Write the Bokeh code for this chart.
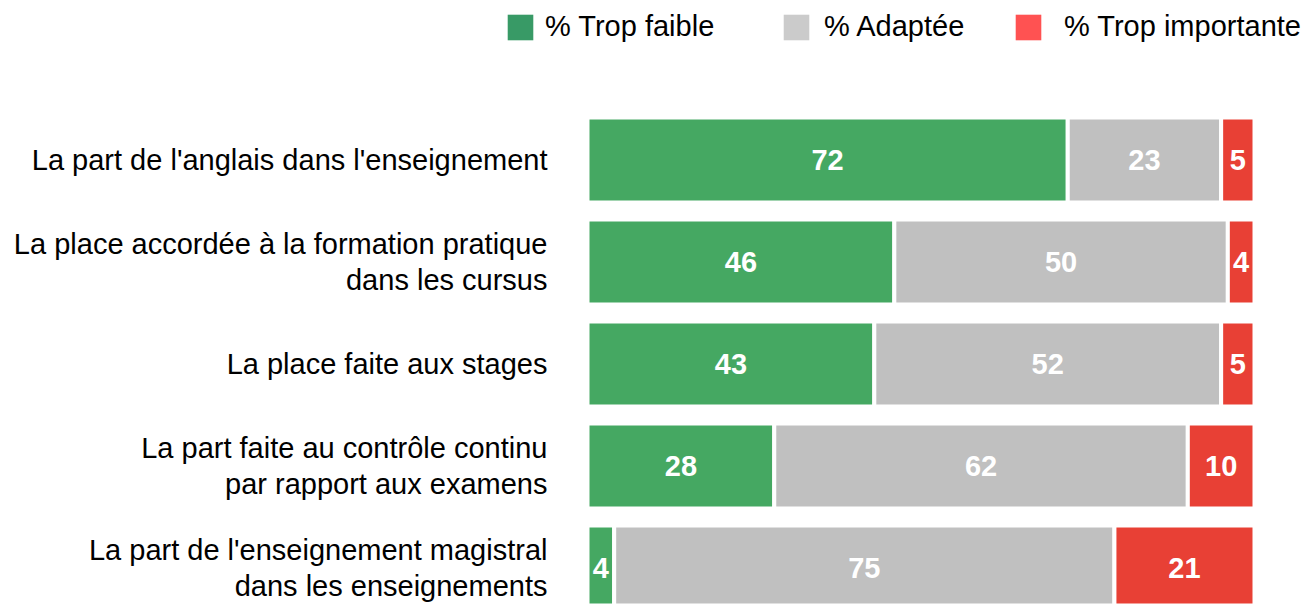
from bokeh.plotting import figure
from bokeh.models import ColumnDataSource, Range1d, Legend, LegendItem
from bokeh.core.properties import value
from bokeh.embed import file_html
from bokeh.resources import INLINE

categories = [
    "La part de l'anglais dans l'enseignement",
    "La place accordée à la formation pratique\ndans les cursus",
    "La place faite aux stages",
    "La part faite au contrôle continu\npar rapport aux examens",
    "La part de l'enseignement magistral\ndans les enseignements",
]
trop_faible = [72, 46, 43, 28, 4]
adaptee = [23, 50, 52, 62, 75]
trop_importante = [5, 4, 5, 10, 21]
series_names = ["% Trop faible", "% Adaptée", "% Trop importante"]
bar_colors = ["#45a862", "#c0c0c0", "#e84035"]
legend_colors = ["#389a66", "#cbcbcb", "#ff5252"]

FONT = value("Liberation Sans")
W, H = 1306, 605
PX_PER_UNIT = 6.67      # horizontal pixels per percent
ROW_PX = 102            # vertical pixels per row
x0_px = 587             # frame px where 0 % lies
y0_px = 159.5           # frame px (from top) where first row center lies

x_start = -x0_px / PX_PER_UNIT
x_end = x_start + W / PX_PER_UNIT
y_top = -y0_px / ROW_PX
y_bottom = y_top + H / ROW_PX

p = figure(width=W, height=H, output_backend="svg", toolbar_location=None,
           x_range=Range1d(x_start, x_end), y_range=Range1d(y_bottom, y_top),
           min_border=0, min_border_left=0, min_border_right=0,
           min_border_top=0, min_border_bottom=0)
p.xaxis.visible = False
p.yaxis.visible = False
p.grid.visible = False
p.outline_line_color = None
p.background_fill_color = "white"
p.border_fill_color = "white"

ys = list(range(len(categories)))
series = [trop_faible, adaptee, trop_importante]
left = [0] * len(categories)
for vals, col in zip(series, bar_colors):
    right = [l + v for l, v in zip(left, vals)]
    mid = [(l + r) / 2 for l, r in zip(left, right)]
    src = ColumnDataSource(dict(y=ys, left=left, right=right, mid=mid,
                                lab=[str(v) for v in vals]))
    p.hbar(y="y", left="left", right="right", height=0.833, source=src,
           fill_color=col, line_color="white", line_width=4)
    p.text(x="mid", y="y", text="lab", source=src, text_color="white",
           text_font=FONT, text_font_style="bold", text_font_size="29px",
           text_align="center", text_baseline="middle")
    left = right

p.text(x=[-6] * len(categories), y=ys, text=categories, text_color="#000000",
       text_font=FONT, text_font_size="29px", text_align="right",
       text_baseline="middle", text_line_height=1.13)

# legend proxies (zero-size bars; only their legend swatch shows)
legend_x = [504, 780, 1012]
standoffs = [9, 12, 20]
for name, col, lx, so in zip(series_names, legend_colors, legend_x, standoffs):
    r = p.hbar(y=[0], left=[0], right=[0], height=0, fill_color=col, line_color=None)
    lg = Legend(items=[LegendItem(label=name, renderers=[r])],
                location=(lx, 562), orientation="horizontal",
                glyph_width=32, glyph_height=32, label_standoff=so,
                padding=0, margin=0, spacing=0,
                border_line_color=None, background_fill_alpha=0,
                label_text_font="Liberation Sans", label_text_font_size="29px",
                label_text_color="#000000")
    p.add_layout(lg)

open("out.html", "w").write(file_html(p, INLINE))
